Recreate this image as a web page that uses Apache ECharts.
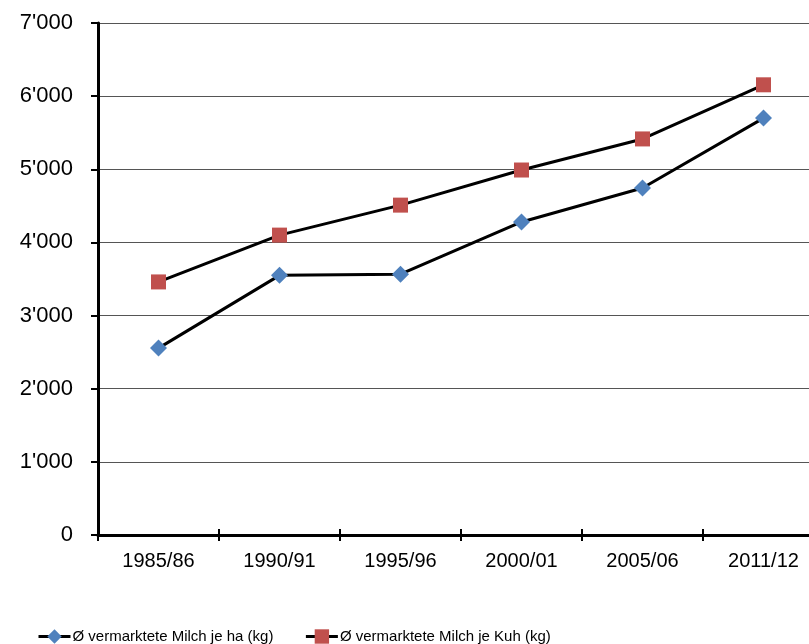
<!DOCTYPE html>
<html>
<head>
<meta charset="utf-8">
<script src="https://cdn.jsdelivr.net/npm/echarts@6/dist/echarts.min.js"></script>
<style>
html,body{margin:0;padding:0;background:#fff;}
#c{width:809px;height:644px;}
</style>
</head>
<body>
<div id="c"></div>
<script>
const categories = ['1985/86','1990/91','1995/96','2000/01','2005/06','2011/12'];
const milchJeHa = [2555, 3550, 3565, 4280, 4745, 5700];
const milchJeKuh = [3460, 4100, 4510, 4990, 5415, 6155];
const seriesNames = ['Ø vermarktete Milch je ha (kg)', 'Ø vermarktete Milch je Kuh (kg)'];

const font = 'Liberation Sans, Arial, sans-serif';
const chart = echarts.init(document.getElementById('c'), null, {renderer:'canvas'});
function fmt(v){
  const s = String(Math.round(v));
  return s.replace(/\B(?=(\d{3})+(?!\d))/g, "'");
}
chart.setOption({
  animation:false,
  backgroundColor:'#fff',
  grid:{left:98, top:23, width:726, bottom:109, containLabel:false, outerBoundsMode:'none'},
  legend:{
    top:624, left:32,
    itemGap:31, itemWidth:32, itemHeight:18,
    lineStyle:{width:3, color:'#000'},
    textStyle:{fontFamily:font, fontSize:15, color:'#000', padding:[0,0,0,-3]},
    data:seriesNames
  },
  xAxis:[{
    type:'category', data:categories, boundaryGap:true,
    axisLine:{lineStyle:{color:'#000', width:3}},
    axisTick:{show:true, length:6, lineStyle:{color:'#000', width:2}},
    axisLabel:{fontFamily:font, fontSize:20, color:'#000', margin:16},
    splitLine:{show:false}
  },{
    type:'category', data:categories, boundaryGap:true, position:'bottom',
    axisLine:{show:false},
    axisTick:{show:true, inside:true, length:6, lineStyle:{color:'#000', width:2}},
    axisLabel:{show:false},
    splitLine:{show:false}
  }],
  yAxis:{
    type:'value', min:0, max:7000, interval:1000,
    axisLine:{show:true, lineStyle:{color:'#000', width:3}},
    axisTick:{show:true, length:7, lineStyle:{color:'#000', width:2}},
    axisLabel:{fontFamily:font, fontSize:22, color:'#000', margin:25, formatter:fmt},
    splitLine:{lineStyle:{color:'#555', width:1}}
  },
  series:[{
    name:seriesNames[0], type:'line', data:milchJeHa,
    symbol:'diamond', symbolSize:17,
    lineStyle:{color:'#000', width:3},
    itemStyle:{color:'#4F81BD'}
  },{
    name:seriesNames[1], type:'line', data:milchJeKuh,
    symbol:'rect', symbolSize:15,
    lineStyle:{color:'#000', width:3},
    itemStyle:{color:'#C0504D'}
  }]
});
</script>
</body>
</html>
